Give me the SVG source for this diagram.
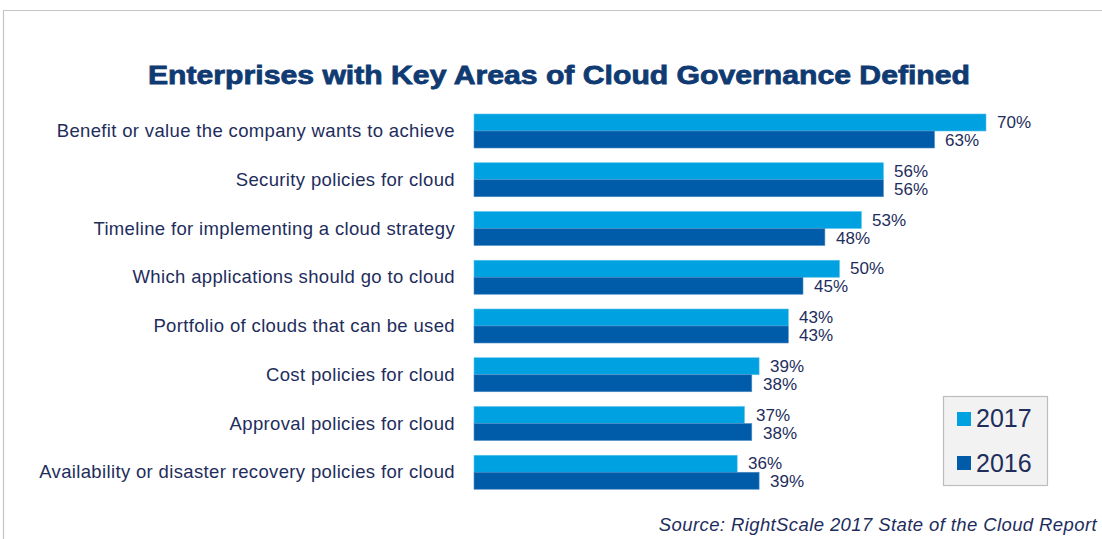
<svg xmlns="http://www.w3.org/2000/svg" width="1102" height="539" viewBox="0 0 1102 539">
<style>
.cat{font-family:"Liberation Sans",Arial,sans-serif;font-size:18.5px;letter-spacing:0.35px;fill:#1e2d5c;text-anchor:end}
.val{font-family:"Liberation Sans",Arial,sans-serif;font-size:17px;fill:#1e2d5c}
.b17{fill:#00a1e0;stroke:#5cc3ee;stroke-width:0.6}
.b16{fill:#005ca8;stroke:#4f8cc6;stroke-width:0.6}
.leg{font-family:"Liberation Sans",Arial,sans-serif;font-size:25px;fill:#1e2d5c}
</style>
<rect width="1102" height="539" fill="#ffffff"/>
<path d="M3.5 539 V10.5 H1102" fill="none" stroke="#c4c4c4" stroke-width="1.2"/>
<text x="559" y="84" text-anchor="middle" font-family="Liberation Sans,Arial,sans-serif" font-weight="bold" font-size="26" fill="#0f3a72" stroke="#0f3a72" stroke-width="0.8" textLength="822" lengthAdjust="spacingAndGlyphs">Enterprises with Key Areas of Cloud Governance Defined</text>
<g id="cat1"><text class="cat" x="455" y="137">Benefit or value the company wants to achieve</text><rect class="b17" x="474" y="114" width="512" height="17"/><rect class="b16" x="474" y="131" width="460.5" height="17"/><text class="val" x="997" y="128">70%</text><text class="val" x="945" y="146">63%</text></g>
<g id="cat2"><text class="cat" x="455" y="185.75">Security policies for cloud</text><rect class="b17" x="474" y="162.75" width="409.4" height="17"/><rect class="b16" x="474" y="179.75" width="409.4" height="17"/><text class="val" x="894" y="176.75">56%</text><text class="val" x="894" y="194.75">56%</text></g>
<g id="cat3"><text class="cat" x="455" y="234.5">Timeline for implementing a cloud strategy</text><rect class="b17" x="474" y="211.5" width="387.4" height="17"/><rect class="b16" x="474" y="228.5" width="350.9" height="17"/><text class="val" x="872" y="225.5">53%</text><text class="val" x="836" y="243.5">48%</text></g>
<g id="cat4"><text class="cat" x="455" y="283.25">Which applications should go to cloud</text><rect class="b17" x="474" y="260.25" width="365.5" height="17"/><rect class="b16" x="474" y="277.25" width="329" height="17"/><text class="val" x="850" y="274.25">50%</text><text class="val" x="814" y="292.25">45%</text></g>
<g id="cat5"><text class="cat" x="455" y="332">Portfolio of clouds that can be used</text><rect class="b17" x="474" y="309" width="314.3" height="17"/><rect class="b16" x="474" y="326" width="314.3" height="17"/><text class="val" x="799" y="323">43%</text><text class="val" x="799" y="341">43%</text></g>
<g id="cat6"><text class="cat" x="455" y="380.75">Cost policies for cloud</text><rect class="b17" x="474" y="357.75" width="285.1" height="17"/><rect class="b16" x="474" y="374.75" width="277.8" height="17"/><text class="val" x="770" y="371.75">39%</text><text class="val" x="763" y="389.75">38%</text></g>
<g id="cat7"><text class="cat" x="455" y="429.5">Approval policies for cloud</text><rect class="b17" x="474" y="406.5" width="270.5" height="17"/><rect class="b16" x="474" y="423.5" width="277.8" height="17"/><text class="val" x="756" y="420.5">37%</text><text class="val" x="763" y="438.5">38%</text></g>
<g id="cat8"><text class="cat" x="455" y="478.25">Availability or disaster recovery policies for cloud</text><rect class="b17" x="474" y="455.25" width="263.2" height="17"/><rect class="b16" x="474" y="472.25" width="285.1" height="17"/><text class="val" x="748" y="469.25">36%</text><text class="val" x="770" y="487.25">39%</text></g>
<g id="legend"><rect x="943.5" y="396.5" width="104" height="89" fill="#f2f2f2" stroke="#bdbdbd" stroke-width="1.2"/><rect x="957" y="412" width="14" height="14" fill="#00a1e0"/><text class="leg" x="976" y="427">2017</text><rect x="957" y="456" width="14" height="14" fill="#005ca8"/><text class="leg" x="976" y="472">2016</text></g>
<text x="1097" y="531" text-anchor="end" font-family="Liberation Sans,Arial,sans-serif" font-style="italic" font-size="18.5" letter-spacing="0.4" fill="#1e2d5c">Source: RightScale 2017 State of the Cloud Report</text>
</svg>
